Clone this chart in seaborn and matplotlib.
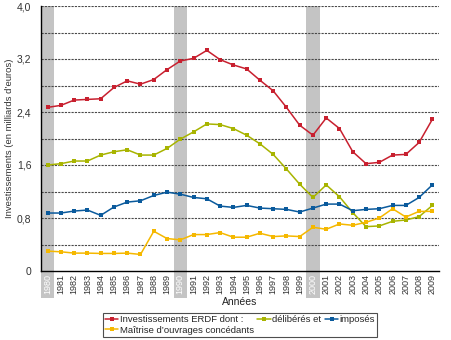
import numpy as np
import pandas as pd
import matplotlib
matplotlib.use("Agg")
import matplotlib.pyplot as plt
from matplotlib.lines import Line2D
import seaborn as sns

years = list(range(1980, 2010))
erdf = [2.47, 2.50, 2.58, 2.59, 2.60, 2.77, 2.87, 2.82, 2.89, 3.04,
        3.17, 3.21, 3.33, 3.19, 3.11, 3.05, 2.88, 2.72, 2.47, 2.20,
        2.05, 2.31, 2.15, 1.80, 1.62, 1.64, 1.75, 1.76, 1.94, 2.29]
deliberes = [1.60, 1.62, 1.66, 1.66, 1.75, 1.80, 1.83, 1.75, 1.75, 1.85,
             1.99, 2.10, 2.22, 2.21, 2.15, 2.05, 1.92, 1.76, 1.54, 1.31,
             1.11, 1.30, 1.12, 0.88, 0.67, 0.68, 0.75, 0.77, 0.82, 0.99]
imposes = [0.875, 0.875, 0.905, 0.92, 0.84, 0.966, 1.04, 1.06, 1.14, 1.19,
           1.16, 1.11, 1.09, 0.98, 0.96, 0.99, 0.95, 0.94, 0.93, 0.89,
           0.95, 1.01, 1.01, 0.91, 0.93, 0.94, 0.99, 0.99, 1.11, 1.30]
moc = [0.30, 0.29, 0.27, 0.27, 0.265, 0.265, 0.27, 0.25, 0.60, 0.49,
       0.47, 0.55, 0.55, 0.58, 0.51, 0.51, 0.57, 0.52, 0.53, 0.52,
       0.66, 0.63, 0.71, 0.69, 0.735, 0.80, 0.94, 0.815, 0.90, 0.90]

series_names = ["Investissements ERDF dont :", "délibérés et", "imposés",
                "Maîtrise d\u2019ouvrages concédants"]
colors = ["#C8202F", "#A8B400", "#0A5A9C", "#F5B800"]
highlight_years = [1980, 1990, 2000]
y_ticks = [0, 0.4, 0.8, 1.2, 1.6, 2.0, 2.4, 2.8, 3.2, 3.6, 4.0]

df = pd.concat([
    pd.DataFrame({"year": years, "value": vals, "serie": name})
    for name, vals in zip(series_names, [erdf, deliberes, imposes, moc])
])

sns.set_style("white")
plt.rcParams["font.family"] = ["Liberation Sans", "DejaVu Sans"]

fig = plt.figure(figsize=(4.51, 3.40), dpi=100)
ax = fig.add_axes([41 / 451, 69 / 340, 398 / 451, 265 / 340])

# grey highlight bands
for y in highlight_years:
    ax.axvspan(y - 0.5, y + 0.5, ymin=-0.102, ymax=1, color="#C4C4C4",
               lw=0, zorder=0, clip_on=False)

# gridlines
for v in y_ticks[1:]:
    ax.axhline(v, color="#4a4a4a", lw=0.8, ls=(0, (2, 1)), zorder=1)

sns.lineplot(data=df, x="year", y="value", hue="serie", hue_order=series_names,
             palette=colors, style="serie", markers=["s"] * 4, dashes=False,
             markersize=3.5, markeredgewidth=0, linewidth=1.1, ax=ax,
             legend=False, zorder=3)

ax.set_xlim(1979.5, 2009.5)
ax.set_ylim(0, 4.0)

ax.set_xticks(years)
ax.set_xticklabels([str(y) for y in years], rotation=90, fontsize=6.5, color="#333333")
for lbl, y in zip(ax.get_xticklabels(), years):
    if y in highlight_years:
        lbl.set_color("white")
ax.tick_params(axis="x", length=0, pad=2)
ax.set_xticks([y + 0.5 for y in years], minor=True)
ax.tick_params(axis="x", which="minor", length=5, width=0.8, color="black", direction="out")


def ylab(v):
    if v == 0:
        return "0"
    if abs(v / 0.8 - round(v / 0.8)) < 1e-6:
        return ("%.1f" % v).replace(".", ",")
    return ""


ax.set_yticks(y_ticks)
ax.set_yticklabels([ylab(v) for v in y_ticks], fontsize=7.5, color="#333333")
ax.tick_params(axis="y", length=6, width=0.8, color="black", direction="out", pad=1)

for s in ["top", "right"]:
    ax.spines[s].set_visible(False)
for s in ["left", "bottom"]:
    ax.spines[s].set_color("black")
    ax.spines[s].set_linewidth(1.0)
    ax.spines[s].set_zorder(4)

ax.set_xlabel("Années", fontsize=7.5, labelpad=2, color="#222222")
ax.set_ylabel("Investissements (en milliards d\u2019euros)", fontsize=6.8,
              color="#333333")
ax.yaxis.set_label_coords(-27 / 398, (271 - 138) / 265)

handles = [Line2D([0], [0], color=c, lw=1.1, marker="s", markersize=3, markeredgewidth=0)
           for c in colors]
order = [0, 3, 1, 2]
leg = fig.legend([handles[i] for i in order], [series_names[i] for i in order],
                 ncol=3, loc="center", bbox_to_anchor=(240 / 451, 1 - 325 / 340),
                 fontsize=6.8, frameon=True, fancybox=False, edgecolor="#222222",
                 handlelength=1.4, handletextpad=0.15, columnspacing=0.4,
                 labelspacing=0.15, borderpad=0.25, borderaxespad=0)
leg.get_frame().set_linewidth(0.8)

fig.savefig("out.png", dpi=100)
